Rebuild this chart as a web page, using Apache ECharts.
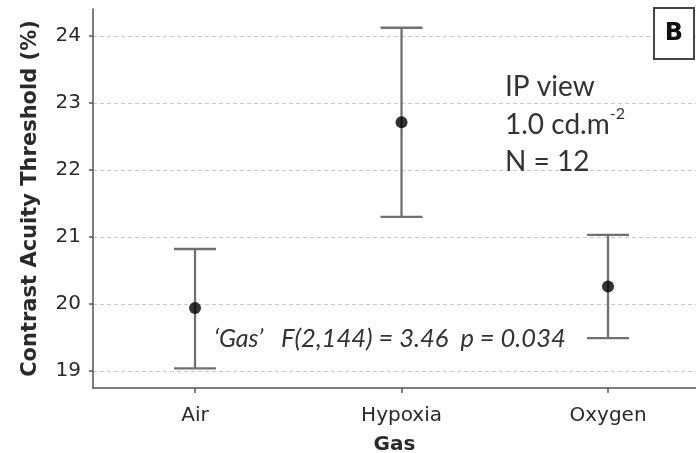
<!DOCTYPE html>
<html>
<head>
<meta charset="utf-8">
<script src="https://cdn.jsdelivr.net/npm/echarts@6/dist/echarts.min.js"></script>
<style>
html,body{margin:0;padding:0;background:#fff;}
#chart{width:696px;height:453px;}
</style>
</head>
<body>
<div id="chart"></div>
<script>
// ---- data ----
const categories = ['Air', 'Hypoxia', 'Oxygen'];
const means = [19.94, 22.71, 20.26];
const lowers = [19.04, 21.30, 19.49];
const uppers = [20.82, 24.12, 21.03];
const yTicks = [19, 20, 21, 22, 23, 24];
const xTicks = [0, 1, 2];

const axisFont = '"DejaVu Sans", sans-serif';
const noteFont = 'Lato, sans-serif';

const chart = echarts.init(document.getElementById('chart'));

const errData = categories.map((c, i) => [i, lowers[i], uppers[i]]);
const pointData = categories.map((c, i) => [i, means[i]]);

const option = {
  animation: false,
  backgroundColor: '#fff',
  grid: { left: 93, right: 0, top: 9, bottom: 65, containLabel: false, outerBoundsMode: 'none' },
  xAxis: {
    type: 'value',
    min: -0.494,
    max: 2.426,
    name: 'Gas',
    nameLocation: 'middle',
    nameGap: 47,
    nameTextStyle: { fontFamily: axisFont, fontWeight: 'bold', fontSize: 20, color: '#2a2a2a' },
    axisLine: { show: true, onZero: false, lineStyle: { color: '#555', width: 1.5 } },
    axisTick: { show: true, customValues: xTicks, length: 5, lineStyle: { color: '#555', width: 1.5 } },
    axisLabel: {
      customValues: xTicks,
      formatter: v => categories[Math.round(v)] || '',
      margin: 18, fontFamily: axisFont, fontSize: 20, color: '#2a2a2a'
    },
    splitLine: { show: false }
  },
  yAxis: {
    type: 'value',
    min: 18.746,
    max: 24.40,
    name: 'Contrast Acuity Threshold (%)',
    nameLocation: 'middle',
    nameGap: 52,
    nameTextStyle: { fontFamily: axisFont, fontWeight: 'bold', fontSize: 21, color: '#2a2a2a' },
    axisLine: { show: true, onZero: false, lineStyle: { color: '#555', width: 1.5 } },
    axisTick: { show: true, customValues: yTicks, length: 4, lineStyle: { color: '#555', width: 1.5 } },
    axisLabel: { customValues: yTicks, margin: 12, fontFamily: axisFont, fontSize: 20, color: '#2a2a2a' },
    splitLine: { show: false }
  },
  series: [
    {
      type: 'line',
      data: [],
      z: 0,
      silent: true,
      markLine: {
        silent: true,
        symbol: 'none',
        z: 0,
        label: { show: false },
        lineStyle: { color: '#c8c8c8', type: [4, 3], width: 1.2 },
        data: yTicks.map(v => ({ yAxis: v }))
      }
    },
    {
      type: 'custom',
      data: errData,
      z: 2,
      renderItem: function (params, api) {
        const x = api.value(0);
        const lo = api.coord([x, api.value(1)]);
        const hi = api.coord([x, api.value(2)]);
        const hw = 21;
        const style = { stroke: '#707070', lineWidth: 2.3 };
        return {
          type: 'group',
          children: [
            { type: 'line', shape: { x1: lo[0], y1: lo[1], x2: hi[0], y2: hi[1] }, style },
            { type: 'line', shape: { x1: lo[0] - hw, y1: lo[1], x2: lo[0] + hw, y2: lo[1] }, style },
            { type: 'line', shape: { x1: hi[0] - hw, y1: hi[1], x2: hi[0] + hw, y2: hi[1] }, style }
          ]
        };
      }
    },
    {
      type: 'scatter',
      data: pointData,
      symbol: 'circle',
      symbolSize: 12,
      itemStyle: { color: '#000' },
      z: 3
    }
  ],
  graphic: [
    {
      type: 'text', left: 214, top: 326, z: 100,
      style: {
        text: "\u2018Gas\u2019",
        fontFamily: noteFont, fontStyle: 'italic', fontSize: 25, fill: '#333'
      }
    },
    {
      type: 'text', left: 281, top: 326, z: 100,
      style: {
        text: "F(2,144) = 3.46  p = 0.034",
        fontFamily: noteFont, fontStyle: 'italic', fontSize: 25.5, fill: '#333'
      }
    },
    {
      type: 'text', left: 505, top: 73, z: 100,
      style: {
        text: '{a|IP view}\n{a|1.0 cd.m}{s|-2}\n{a|N = 12}',
        rich: {
          a: { fontFamily: noteFont, fontSize: 28, fill: '#333', lineHeight: 37.5 },
          s: { fontFamily: noteFont, fontSize: 16, fill: '#333', lineHeight: 37.5, verticalAlign: 'top', padding: [0,0,14,0] }
        }
      }
    },
    {
      type: 'rect', z: 100, shape: { x: 654, y: 8, width: 40, height: 51 },
      style: { fill: '#fff', stroke: '#444', lineWidth: 2 }
    },
    {
      type: 'text', x: 674, y: 34, z: 101,
      style: { text: 'B', fontFamily: axisFont, fontWeight: 'bold', fontSize: 24, fill: '#111', align: 'center', verticalAlign: 'middle' }
    }
  ]
};
chart.setOption(option);
</script>
</body>
</html>
